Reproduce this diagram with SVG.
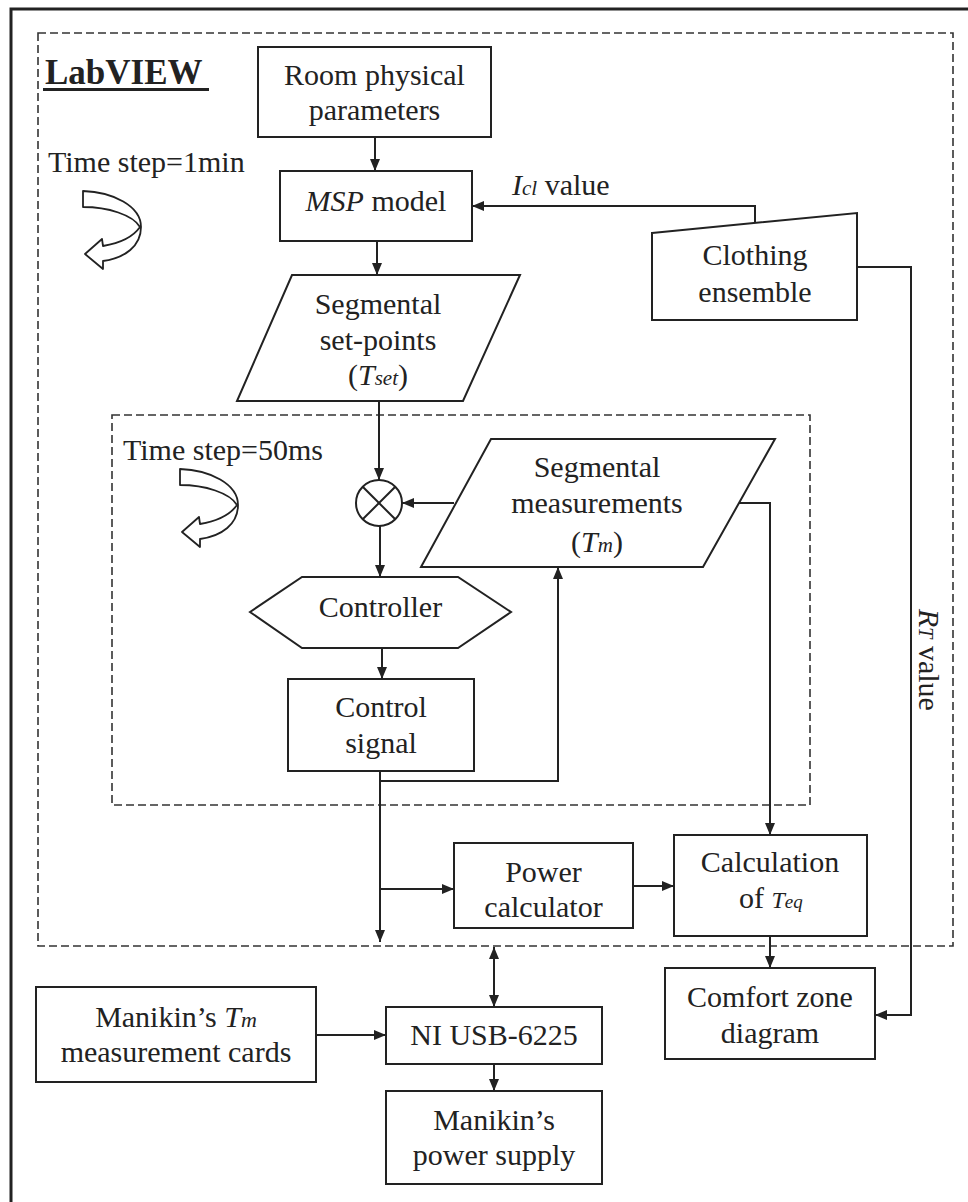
<svg xmlns="http://www.w3.org/2000/svg" width="968" height="1202" viewBox="0 0 968 1202">
<style>
  .box{fill:#fff;stroke:#222;stroke-width:2}
  .ln{fill:none;stroke:#222;stroke-width:2}
  .dash{fill:none;stroke:#333;stroke-width:1.6;stroke-dasharray:8 4}
  text{font-family:"Liberation Serif","Times New Roman",serif;font-size:30px;fill:#222}
  .c{text-anchor:middle}
  .i{font-style:italic}
  .curl{fill:#fff;stroke:#222;stroke-width:1.8;stroke-linejoin:round}
</style>
<defs>
  <marker id="ah" markerWidth="12" markerHeight="12" refX="12" refY="6" orient="auto-start-reverse" markerUnits="userSpaceOnUse">
    <path d="M0,1 L12,6 L0,11 Z" fill="#222"/>
  </marker>
  <path id="curl" d="M0,0 L0,16 C25,16 50,24 57,36 C50,46 38,52 20,55 L19,48 L2,63 L20,78 L20,70 C42,67 58,55 58,36 C58,15 30,1 0,0 Z"/>
</defs>
<rect width="968" height="1202" fill="#fff"/>

<g id="frame">
  <polyline points="11,1202 11,9 968,9" fill="none" stroke="#222" stroke-width="3"/>
  <rect x="38" y="33" width="915" height="913" class="dash"/>
  <rect x="112" y="415" width="698" height="390" class="dash"/>
</g>

<g id="labels">
  <text x="45" y="84" style="font-weight:bold;font-size:35px">LabVIEW</text>
  <rect x="43" y="88" width="166" height="3" fill="#222"/>
  <text x="48" y="172">Time step=1min</text>
  <use href="#curl" x="83" y="191" class="curl"/>
  <text x="123" y="460">Time step=50ms</text>
  <use href="#curl" x="180" y="469" class="curl"/>
</g>

<g id="connectors">
  <line x1="375" y1="137" x2="375" y2="171" class="ln" marker-end="url(#ah)"/>
  <line x1="377" y1="241" x2="377" y2="275" class="ln" marker-end="url(#ah)"/>
  <polyline points="755,223 755,206 472,206" class="ln" marker-end="url(#ah)"/>
  <polyline points="857,267 911,267 911,1015 875,1015" class="ln" marker-end="url(#ah)"/>
  <line x1="379" y1="401" x2="379" y2="480" class="ln" marker-end="url(#ah)"/>
  <line x1="454" y1="503" x2="402" y2="503" class="ln" marker-end="url(#ah)"/>
  <line x1="380" y1="526" x2="380" y2="577" class="ln" marker-end="url(#ah)"/>
  <line x1="382" y1="648" x2="382" y2="679" class="ln" marker-end="url(#ah)"/>
  <line x1="380" y1="771" x2="380" y2="942" class="ln" marker-end="url(#ah)"/>
  <polyline points="380,781 558,781 558,567" class="ln" marker-end="url(#ah)"/>
  <polyline points="739,503 770,503 770,835" class="ln" marker-end="url(#ah)"/>
  <line x1="380" y1="889" x2="454" y2="889" class="ln" marker-end="url(#ah)"/>
  <line x1="633" y1="886" x2="674" y2="886" class="ln" marker-end="url(#ah)"/>
  <line x1="770" y1="936" x2="770" y2="968" class="ln" marker-end="url(#ah)"/>
  <line x1="494" y1="947" x2="494" y2="1007" class="ln" marker-start="url(#ah)" marker-end="url(#ah)"/>
  <line x1="316" y1="1035" x2="386" y2="1035" class="ln" marker-end="url(#ah)"/>
  <line x1="494" y1="1064" x2="494" y2="1091" class="ln" marker-end="url(#ah)"/>
  <text x="512" y="195"><tspan class="i">I</tspan><tspan class="i" style="font-size:21px">cl</tspan> value</text>
  <text transform="translate(919,609) rotate(90)"><tspan class="i">R</tspan><tspan class="i" style="font-size:20px">T</tspan> value</text>
</g>

<g id="room">
  <rect x="258" y="47" width="233" height="90" class="box"/>
  <text x="374.5" y="85" class="c">Room physical</text>
  <text x="374.5" y="120" class="c">parameters</text>
</g>

<g id="msp">
  <rect x="280" y="171" width="192" height="70" class="box"/>
  <text x="376" y="211" class="c"><tspan class="i">MSP</tspan> model</text>
</g>

<g id="clothing">
  <polygon points="652,233 857,213 857,320 652,320" class="box"/>
  <text x="755" y="265" class="c">Clothing</text>
  <text x="755" y="302" class="c">ensemble</text>
</g>

<g id="setpoints">
  <polygon points="292,275 520,275 463,401 237,401" class="box"/>
  <text x="378" y="314" class="c">Segmental</text>
  <text x="378" y="350" class="c">set-points</text>
  <text x="378" y="385" class="c">(<tspan class="i">T</tspan><tspan class="i" style="font-size:21px">set</tspan>)</text>
</g>

<g id="sum">
  <circle cx="379" cy="503" r="23" class="box"/>
  <line x1="362.7" y1="486.7" x2="395.3" y2="519.3" class="ln" stroke-width="1.6"/>
  <line x1="395.3" y1="486.7" x2="362.7" y2="519.3" class="ln" stroke-width="1.6"/>
</g>

<g id="measurements">
  <polygon points="491,439 775,439 703,567 421,567" class="box"/>
  <text x="597" y="477" class="c">Segmental</text>
  <text x="597" y="513" class="c">measurements</text>
  <text x="597" y="552" class="c">(<tspan class="i">T</tspan><tspan class="i" style="font-size:21px">m</tspan>)</text>
</g>

<g id="controller">
  <polygon points="250,612 302,577 458,577 511,612 458,648 302,648" class="box"/>
  <text x="380.5" y="617" class="c">Controller</text>
</g>

<g id="controlsignal">
  <rect x="288" y="679" width="186" height="92" class="box"/>
  <text x="381" y="717" class="c">Control</text>
  <text x="381" y="753" class="c">signal</text>
</g>

<g id="power">
  <rect x="454" y="843" width="179" height="85" class="box"/>
  <text x="543.5" y="882" class="c">Power</text>
  <text x="543.5" y="917" class="c">calculator</text>
</g>

<g id="calcteq">
  <rect x="674" y="835" width="193" height="101" class="box"/>
  <text x="770" y="872" class="c">Calculation</text>
  <text x="739" y="908">of  <tspan class="i" style="font-size:24px">T</tspan><tspan class="i" style="font-size:19px">eq</tspan></text>
</g>

<g id="comfort">
  <rect x="665" y="968" width="210" height="91" class="box"/>
  <text x="770" y="1007" class="c">Comfort zone</text>
  <text x="770" y="1043" class="c">diagram</text>
</g>

<g id="cards">
  <rect x="36" y="987" width="280" height="95" class="box"/>
  <text x="176" y="1027" class="c">Manikin’s <tspan class="i">T</tspan><tspan class="i" style="font-size:22px">m</tspan></text>
  <text x="176" y="1062" class="c">measurement cards</text>
</g>

<g id="niusb">
  <rect x="386" y="1007" width="216" height="57" class="box"/>
  <text x="494" y="1045" class="c">NI USB-6225</text>
</g>

<g id="powersupply">
  <rect x="386" y="1091" width="216" height="93" class="box"/>
  <text x="494" y="1130" class="c">Manikin’s</text>
  <text x="494" y="1165" class="c">power supply</text>
</g>
</svg>
